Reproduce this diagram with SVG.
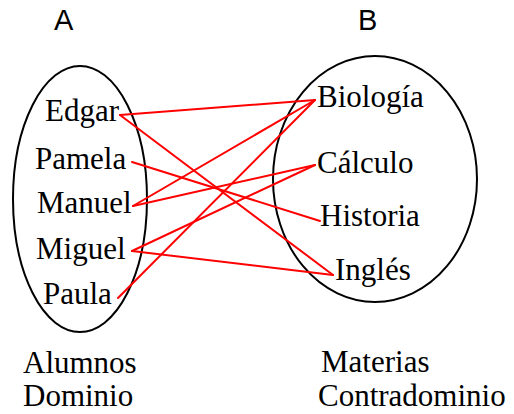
<svg xmlns="http://www.w3.org/2000/svg" width="514" height="414" viewBox="0 0 514 414">
<style>
.set{fill:none;stroke:#000;stroke-width:2}
.lbl{font-family:"Liberation Serif","Times New Roman",serif;font-size:31px;fill:#000}
.hdr{font-family:"Liberation Sans",Arial,sans-serif;font-size:29px;fill:#000}
.con line{stroke:#ff0000;stroke-width:2;stroke-linecap:round}
</style>
<rect width="514" height="414" fill="#fff"/>
<g id="setA">
<ellipse class="set" cx="80" cy="199" rx="67" ry="133"/>
<text class="hdr" x="54" y="30">A</text>
<text class="lbl" x="23" y="373">Alumnos</text>
<text class="lbl" x="23" y="406">Dominio</text>
</g>
<g id="setB">
<ellipse class="set" cx="375" cy="179" rx="102" ry="123"/>
<text class="hdr" x="358" y="30">B</text>
<text class="lbl" x="321" y="372">Materias</text>
<text class="lbl" x="318" y="406">Contradominio</text>
</g>
<g id="edgar"><text class="lbl" x="45" y="121">Edgar</text></g>
<g id="pamela"><text class="lbl" x="35" y="169">Pamela</text></g>
<g id="manuel"><text class="lbl" x="37" y="213">Manuel</text></g>
<g id="miguel"><text class="lbl" x="36" y="259">Miguel</text></g>
<g id="paula"><text class="lbl" x="43" y="304">Paula</text></g>
<g id="biologia"><text class="lbl" x="317" y="107">Biología</text></g>
<g id="calculo"><text class="lbl" x="317" y="173">Cálculo</text></g>
<g id="historia"><text class="lbl" x="320" y="226">Historia</text></g>
<g id="ingles"><text class="lbl" x="335" y="280">Inglés</text></g>
<g id="connectors" class="con">
<line x1="120" y1="115" x2="315" y2="100"/>
<line x1="120" y1="115" x2="333" y2="275"/>
<line x1="132" y1="162" x2="320" y2="221"/>
<line x1="133" y1="206" x2="315" y2="100"/>
<line x1="133" y1="206" x2="315" y2="165"/>
<line x1="132" y1="251" x2="315" y2="165"/>
<line x1="132" y1="251" x2="333" y2="275"/>
<line x1="118" y1="298" x2="315" y2="100"/>
</g>
</svg>
